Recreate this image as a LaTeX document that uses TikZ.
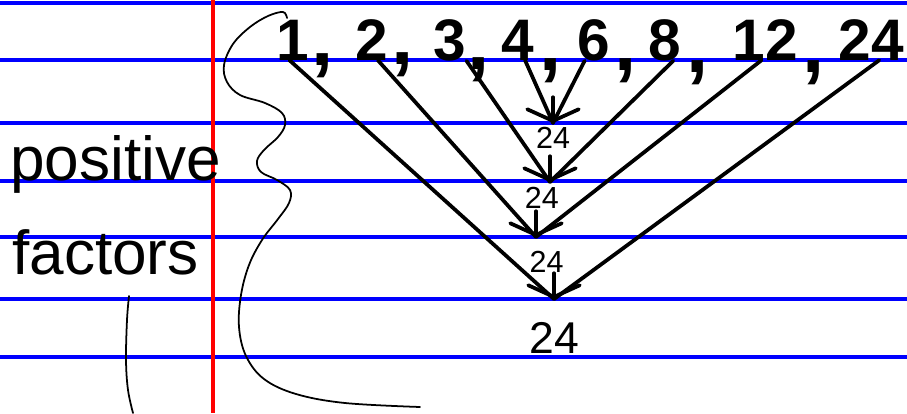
\documentclass[tikz,border=0pt]{standalone}
\usepackage{fontspec}
\usepackage{tikz}
\usetikzlibrary{arrows.meta, positioning, calc}
\setmainfont{Liberation Sans}
\definecolor{myblue}{RGB}{0,0,255}
\definecolor{myred}{RGB}{255,0,0}
\definecolor{myink}{RGB}{0,0,0}
\tikzset{
  blueline/.style={draw=myblue, line width=3pt},
  redline/.style={draw=myred, line width=3pt},
  num/.style={font=\fontsize{50}{50}\selectfont\bfseries, inner sep=0pt, anchor=base},
  comma/.style={font=\fontsize{68}{68}\selectfont\bfseries, inner ysep=0pt, inner xsep=-3pt},
  lbl/.style={font=\fontsize{26}{26}\selectfont, inner sep=0pt},
  word/.style={font=\fontsize{53}{53}\selectfont, inner sep=0pt, anchor=base west},
  arrow/.style={draw=myink, line width=3.2pt, line cap=round},
  tiphead/.style={draw=myink, line width=3.2pt, line cap=round,
    -{Straight Barb[length=10pt, width=44pt, line cap=round]}},
  pen/.style={draw=myink, line width=1.5pt, line cap=round, line join=round}
}

\begin{document}
\begin{tikzpicture}[x=0.03cm, y=-0.03cm]
  \useasboundingbox (0,0) rectangle (907,413);

  % Paper
  \foreach \y in {3,60,123,181,237,299,357}
    \draw[blueline] (0,\y) -- (907,\y);
  \draw[redline] (213,0) -- (213,413);

  % Factors of 24
  \node[num] (n1) at (293,60) {1};
  \node[num] (n2) at (372,60) {2};
  \node[num] (n3) at (450,60) {3};
  \node[num] (n4) at (518,60) {4};
  \node[num] (n6) at (594,60) {6};
  \node[num] (n8) at (665,60) {8};
  \node[num] (n12) at (765,60) {12};
  \node[num] (n24) at (871,60) {24};
  \node[comma] (c1) at (323,66) {,};
  \node[comma] (c2) at (403,65) {,};
  \node[comma] (c3) at (479,70) {,};
  \node[comma] (c4) at (551,71) {,};
  \node[comma] (c6) at (626,71) {,};
  \node[comma] (c8) at (698,73) {,};
  \node[comma] (c12) at (814,73) {,};

  % Meeting points
  \coordinate (tA) at (553,123);
  \coordinate (tB) at (550,182);
  \coordinate (tC) at (536,237);
  \coordinate (tD) at (554,299);

  % Pairs
  \draw[arrow] ([xshift=6pt]n4.south) -- (tA);
  \draw[arrow] ([xshift=-8pt]n6.south) -- (tA);
  \draw[arrow] (n3.south east) -- (tB);
  \draw[arrow] ([xshift=7pt]n8.south) -- (tB);
  \draw[arrow] ([xshift=5pt]n2.south) -- (tC);
  \draw[arrow] ([xshift=-3pt]n12.south) -- (tC);
  \draw[arrow] ([xshift=-3pt]n1.south) -- (tD);
  \draw[arrow] ([xshift=7pt]n24.south) -- (tD);

  \draw[tiphead] ([yshift=22pt]tA) -- (tA);
  \draw[tiphead] ([yshift=22pt]tB) -- (tB);
  \draw[tiphead] ([yshift=22pt]tC) -- (tC);
  \draw[tiphead] ([yshift=22pt]tD) -- (tD);

  % Products
  \node[lbl, below=3pt of tA] (p1) {24};
  \node[lbl, below=4pt of tB, xshift=-7pt] (p2) {24};
  \node[lbl, below=12pt of tC, xshift=9pt] (p3) {24};
  \node[lbl, below=20pt of tD, font=\fontsize{38}{38}\selectfont] (p4) {24};

  % Side note
  \node[word] (w1) at (10,180) {positive};
  \node[word] (w2) at (12,274) {factors};
  \draw[pen] plot[smooth, tension=0.6] coordinates {(129,296) (127,320) (126,360) (128,390) (133,413)};

  % Brace
  \draw[pen] plot[smooth, tension=0.6] coordinates {(287,18) (283,12) (268,16) (250,27) (233,44)
    (224,65) (227,82) (240,95) (265,103) (282,113) (285,125) (278,137) (264,150) (257,161)
    (261,172) (277,180) (290,190) (289,203) (278,219) (262,240) (249,265) (241,295) (239,327)
    (246,356) (264,379) (296,394) (345,403) (420,407)};
\end{tikzpicture}
\end{document}
